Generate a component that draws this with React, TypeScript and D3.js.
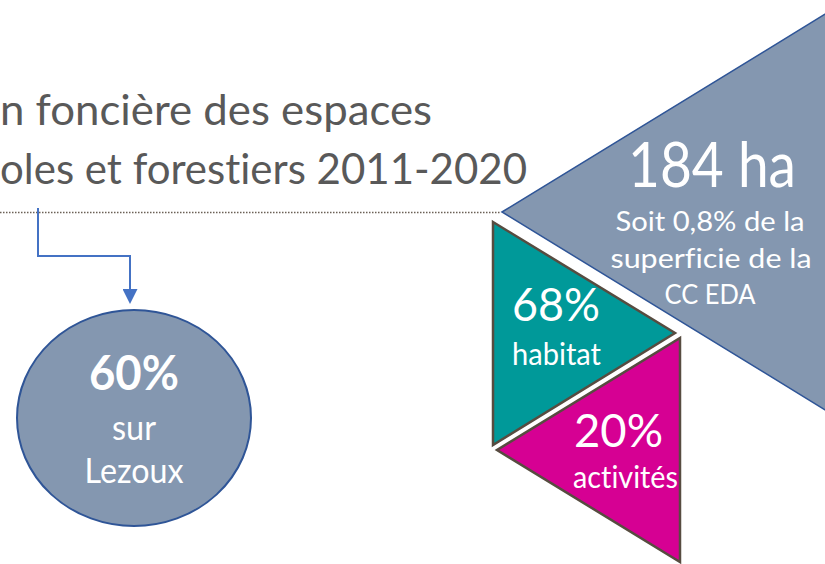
import * as d3 from "d3";

// infographic values
const titleLines = ["n foncière des espaces", "oles et forestiers 2011-2020"];
const totalHa = 184;
const totalNote = ["Soit 0,8% de la", "superficie de  la", "CC EDA"];
const usageLabels = ["habitat", "activités"];
const usageShares = [68, 20];
const usageColors = ["#009999", "#d60093"];
const lezouxShare = 60;
const lezouxLabel = ["sur", "Lezoux"];

const W = 825;
const H = 564;
const FONT = "Lato, 'Open Sans', sans-serif";

type Pt = [number, number];
const tri = d3.line<Pt>().curve(d3.curveLinearClosed);

// shapes
const bigTri: Pt[] = [[502, 212], [845, 2], [845, 422]];
const usageTris: Pt[][] = [
  [[493, 222], [675, 333], [493, 445]],
  [[680, 338], [680, 562], [497, 450]],
];
const arrow = d3.line<Pt>()([[38, 208], [38, 256], [130, 256], [130, 289]]);

export default function App() {
  return (
    <svg
      width={W}
      height={H}
      style={{
        position: "absolute",
        left: 0,
        top: 0,
        background: "#fff",
        fontVariantLigatures: "none",
        fontFeatureSettings: '"liga" 0',
        whiteSpace: "pre",
      }}
      fontFamily={FONT}
    >
      <defs>
        <marker id="head" viewBox="0 0 10 10" refX="0" refY="5" markerWidth="7.5" markerHeight="7.5" markerUnits="strokeWidth" orient="auto">
          <path d="M0,0 L10,5 L0,10 Z" fill="#4472c4" />
        </marker>
      </defs>

      {/* title */}
      <text x={0} y={125} fontSize={42} fill="#595959" textLength={432} lengthAdjust="spacingAndGlyphs">
        {titleLines[0]}
      </text>
      <text x={0} y={184} fontSize={42} fill="#595959" textLength={527} lengthAdjust="spacingAndGlyphs">
        {titleLines[1]}
      </text>

      {/* dotted rule */}
      <line x1={0} x2={500} y1={212.5} y2={212.5} stroke="#6b6056" strokeWidth={1.5} strokeDasharray="1.5,1.5" />

      {/* connector arrow */}
      <path d={arrow ?? ""} fill="none" stroke="#4472c4" strokeWidth={2} markerEnd="url(#head)" />

      {/* Lezoux bubble */}
      <ellipse cx={134} cy={418} rx={117} ry={108} fill="#8497b0" stroke="#2f5597" strokeWidth={2} />
      <text x={134} y={390} textAnchor="middle" fontSize={48} fontWeight="bold" fill="#fff" textLength={90} lengthAdjust="spacingAndGlyphs">
        {`${lezouxShare}%`}
      </text>
      <text x={134} y={440} textAnchor="middle" fontSize={35} fill="#fff" textLength={44} lengthAdjust="spacingAndGlyphs">
        {lezouxLabel[0]}
      </text>
      <text x={134} y={483} textAnchor="middle" fontSize={35} fill="#fff" textLength={99} lengthAdjust="spacingAndGlyphs">
        {lezouxLabel[1]}
      </text>

      {/* total triangle */}
      <path d={tri(bigTri) ?? ""} fill="#8497b0" stroke="#2f5597" strokeWidth={1.5} />
      <text x={712} y={187} textAnchor="middle" fontSize={61} fill="#fff" textLength={168} lengthAdjust="spacingAndGlyphs">
        {`${totalHa} ha`}
      </text>
      {totalNote.map((t, i) => (
        <text
          key={t}
          x={i === 1 ? 711 : 710}
          y={231 + i * 36.5}
          textAnchor="middle"
          fontSize={27}
          fill="#fff"
          textLength={[189, 201, 91][i]}
          lengthAdjust="spacingAndGlyphs"
        >
          {t}
        </text>
      ))}

      {/* usage triangles */}
      {usageTris.map((pts, i) => (
        <path key={i} d={tri(pts) ?? ""} fill={usageColors[i]} stroke="#574c40" strokeWidth={2.5} />
      ))}
      <text x={512} y={321} fontSize={46} fill="#fff" textLength={88} lengthAdjust="spacingAndGlyphs">
        {`${usageShares[0]}%`}
      </text>
      <text x={512} y={365} fontSize={30} fill="#fff" textLength={89} lengthAdjust="spacingAndGlyphs">
        {usageLabels[0]}
      </text>
      <text x={574} y={447} fontSize={46} fill="#fff" textLength={89} lengthAdjust="spacingAndGlyphs">
        {`${usageShares[1]}%`}
      </text>
      <text x={573} y={488} fontSize={30} fill="#fff" textLength={105} lengthAdjust="spacingAndGlyphs">
        {usageLabels[1]}
      </text>
    </svg>
  );
}
